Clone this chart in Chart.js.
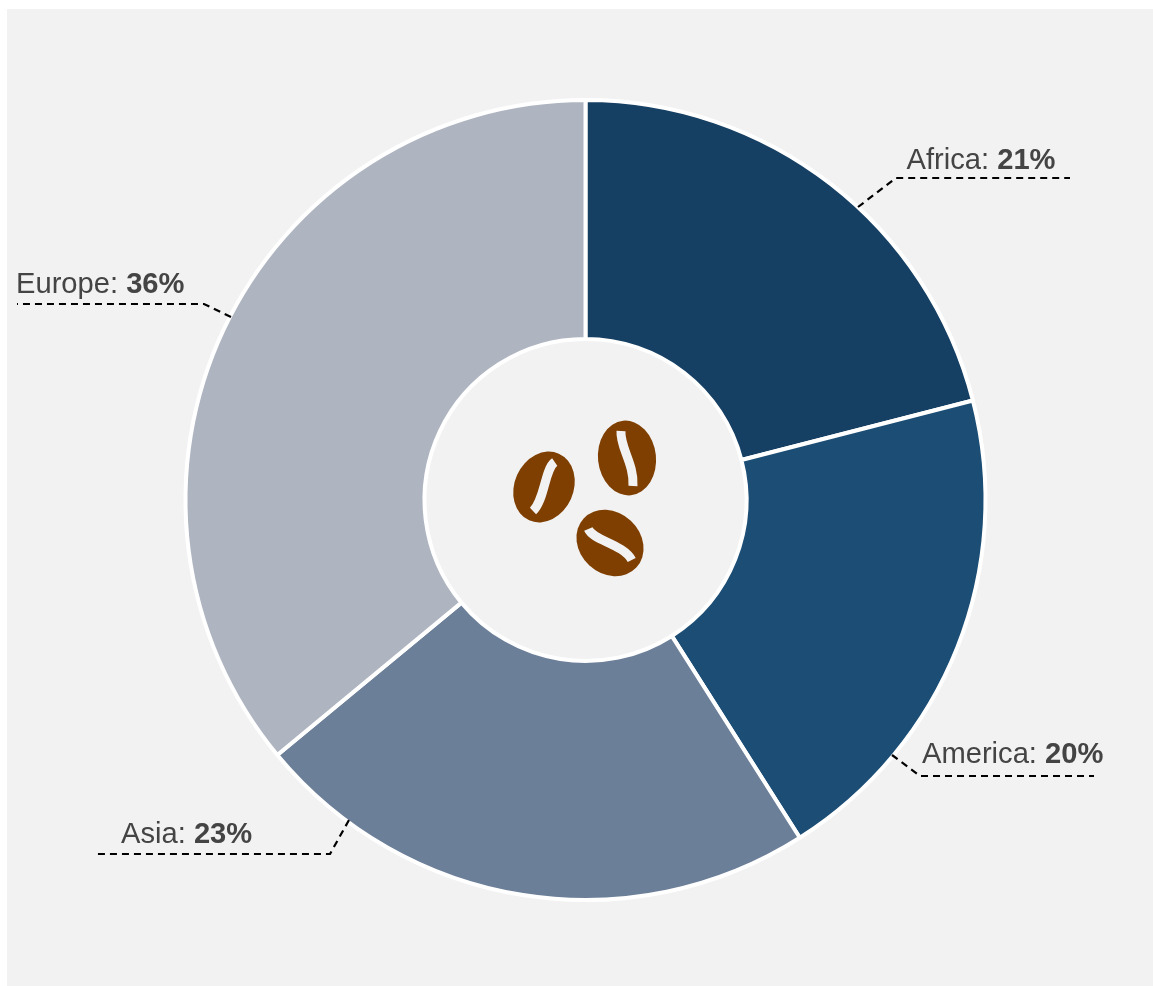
<!DOCTYPE html>
<html>
<head>
<meta charset="utf-8">
<title>Coffee by region</title>
<script src="https://cdn.jsdelivr.net/npm/chart.js@4"></script>
<style>
  html, body { margin: 0; padding: 0; background: #fff; }
  #box { position: relative; width: 1153px; height: 986px; }
</style>
</head>
<body>
<div id="box"><canvas id="coffee"></canvas></div>
<script>
const regions = ["Africa", "America", "Asia", "Europe"];
const shares = [21, 20, 23, 36];
const sliceColors = ["#153f63", "#1c4d75", "#6c7f99", "#aeb4c0"];

// callout layout, offsets from the doughnut centre
const labelX = [321, 336.5, -464.5, -569.5];
const labelY = [-331, 263, 343, -207];
const leaderStart = [[272.5, -293], [306.5, 255], [-236.5, 320], [-354.5, -183]];
const leaderElbow = [[310.5, -322], [334.5, 276], [-255.5, 354], [-381.5, -196]];
const leaderEnd = [[484.5, -322], [508.5, 276], [-488.5, 354], [-568.5, -196]];

// coffee beans in the hole: offset x, offset y, rotation, half width, half height
const beans = [
  [41.5, -42, -6, 29, 37.5],
  [-41.5, -13, 24, 29.5, 36.5],
  [24.5, 43, -47, 30.5, 36]
];
// groove of each bean, relative to bean centre: start, control 1, control 2, end
const grooves = [
  [-6, -27, -7.3, -11, 7.3, 5.7, 6, 28],
  [10.7, -25, 0.7, -18, 0.7, 13, -11, 24],
  [-21.7, -14, -16.7, -2.3, 13.3, 1, 21.7, 17]
];

// panel behind the chart, white strip left and on top
const panelBackground = {
  id: "panelBackground",
  beforeDraw(chart) {
    const c = chart.ctx;
    c.save();
    c.fillStyle = "#f2f2f2";
    c.fillRect(7, 9, chart.width - 7, chart.height - 9);
    c.restore();
  }
};

const callouts = {
  id: "callouts",
  afterDraw(chart) {
    const c = chart.ctx;
    const arc = chart.getDatasetMeta(0).data[0];
    const cx = arc.x, cy = arc.y;
    c.save();
    regions.forEach((name, i) => {
      c.beginPath();
      c.setLineDash([7, 5]);
      c.lineWidth = 2.2;
      c.strokeStyle = "#000";
      c.moveTo(cx + leaderStart[i][0], cy + leaderStart[i][1]);
      c.lineTo(cx + leaderElbow[i][0], cy + leaderElbow[i][1]);
      c.lineTo(cx + leaderEnd[i][0], cy + leaderEnd[i][1]);
      c.stroke();

      const first = name + ": ";
      c.fillStyle = "#444444";
      c.textBaseline = "alphabetic";
      c.textAlign = "left";
      c.font = "29.15px 'Liberation Sans'";
      c.fillText(first, cx + labelX[i], cy + labelY[i]);
      const w = c.measureText(first).width;
      c.font = "bold 29.15px 'Liberation Sans'";
      c.fillText(shares[i] + "%", cx + labelX[i] + w, cy + labelY[i]);
    });
    c.setLineDash([]);
    beans.forEach((b, i) => {
      c.save();
      c.translate(cx + b[0], cy + b[1]);
      c.save();
      c.rotate(b[2] * Math.PI / 180);
      c.beginPath();
      c.ellipse(0, 0, b[3], b[4], 0, 0, Math.PI * 2);
      c.fillStyle = "#7f3f00";
      c.fill();
      c.restore();
      const g = grooves[i];
      c.beginPath();
      c.moveTo(g[0], g[1]);
      c.bezierCurveTo(g[2], g[3], g[4], g[5], g[6], g[7]);
      c.lineWidth = 9;
      c.strokeStyle = "#f2f2f2";
      c.stroke();
      c.restore();
    });
    c.restore();
  }
};

new Chart(document.getElementById("coffee"), {
  type: "doughnut",
  data: {
    labels: regions,
    datasets: [{
      data: shares,
      backgroundColor: sliceColors,
      borderColor: "#ffffff",
      borderWidth: 4
    }]
  },
  options: {
    responsive: true,
    maintainAspectRatio: false,
    animation: false,
    cutout: 161,
    layout: { padding: { left: 183.5, right: 165.5, top: 98, bottom: 84 } },
    plugins: {
      legend: { display: false },
      tooltip: { enabled: false }
    }
  },
  plugins: [panelBackground, callouts]
});
</script>
</body>
</html>
